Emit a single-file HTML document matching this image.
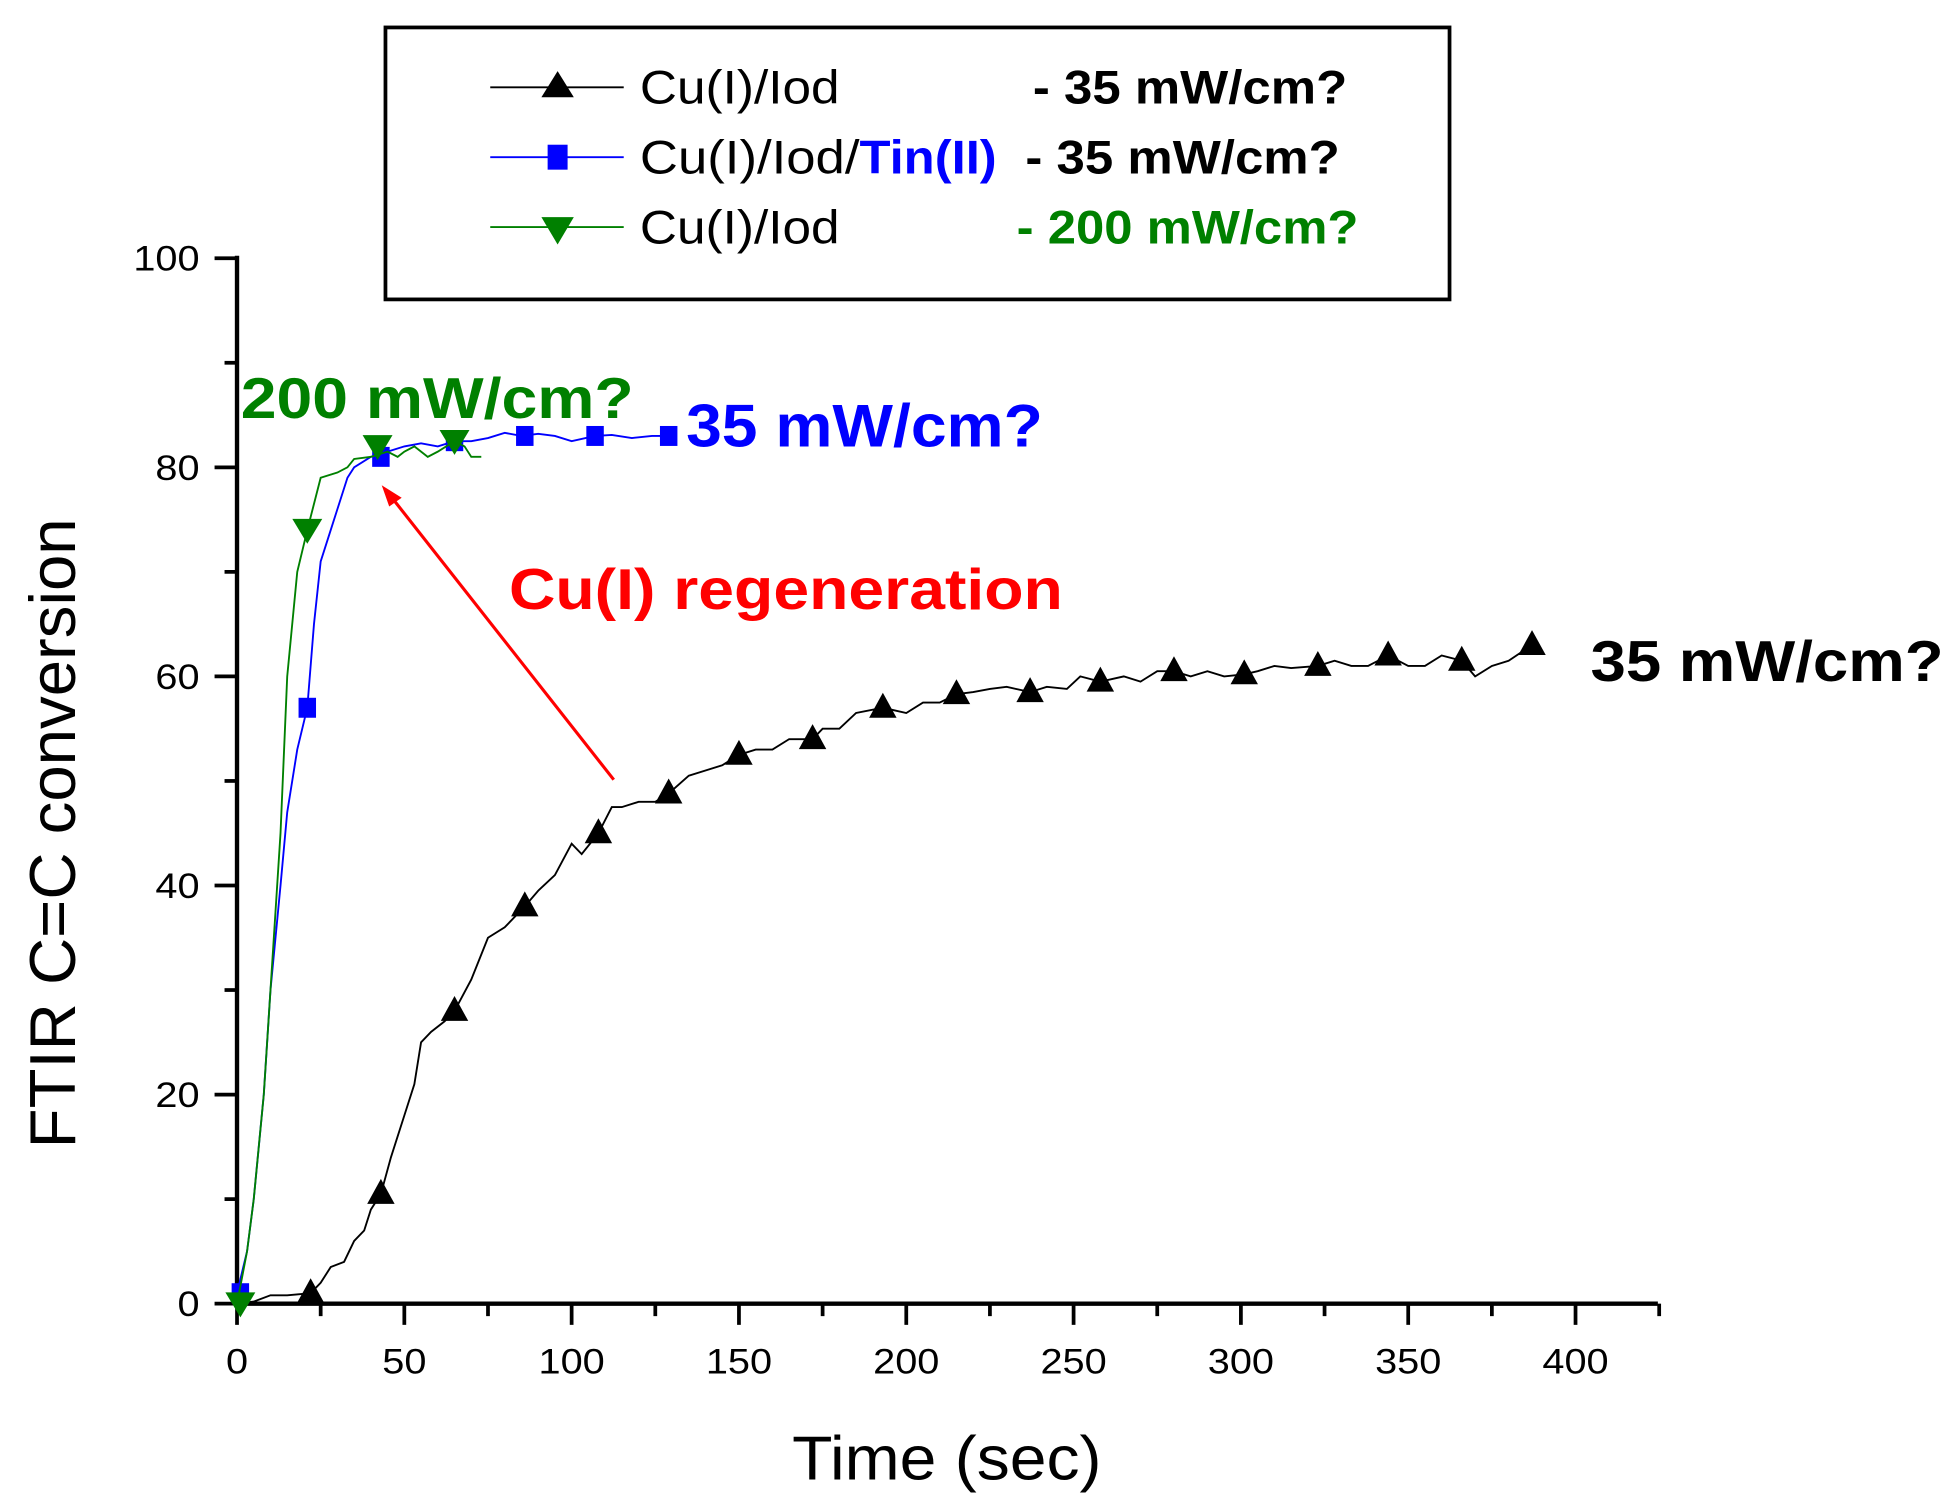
<!DOCTYPE html>
<html><head><meta charset="utf-8"><style>
html,body{margin:0;padding:0;background:#fff;}
svg{display:block;}
text{font-family:"Liberation Sans",Arial,sans-serif;}
</style></head><body>
<svg id="s" width="1956" height="1507" viewBox="0 0 1568 1208" preserveAspectRatio="none" xmlns="http://www.w3.org/2000/svg">
<rect width="1568" height="1208" fill="#fff"/>
<rect x="309" y="22" width="853" height="218" fill="#fff" stroke="#000" stroke-width="3"/>
<line x1="393" y1="70" x2="500" y2="70" stroke="#000" stroke-width="1.5"/>
<polygon points="447,57 434,78 460,78" fill="#000"/>
<line x1="393" y1="126" x2="500" y2="126" stroke="#0000ff" stroke-width="1.5"/>
<rect x="439" y="116" width="16" height="20" fill="#0000ff"/>
<line x1="393" y1="182" x2="500" y2="182" stroke="#008000" stroke-width="1.5"/>
<polygon points="434,174 460,174 447,196" fill="#008000"/>
<g font-size="38">
<text x="513" y="83" textLength="160" lengthAdjust="spacingAndGlyphs">Cu(I)/Iod</text>
<text x="513" y="139" textLength="176" lengthAdjust="spacingAndGlyphs">Cu(I)/Iod/</text>
<text x="689" y="139" textLength="110" lengthAdjust="spacingAndGlyphs" fill="#0000ff" font-weight="bold">Tin(II)</text>
<text x="513" y="195" textLength="160" lengthAdjust="spacingAndGlyphs">Cu(I)/Iod</text>
<text x="828" y="83" font-weight="bold" textLength="252" lengthAdjust="spacingAndGlyphs">- 35 mW/cm?</text>
<text x="822" y="139" font-weight="bold" textLength="252" lengthAdjust="spacingAndGlyphs">- 35 mW/cm?</text>
<text x="815" y="195" font-weight="bold" fill="#008000" textLength="274" lengthAdjust="spacingAndGlyphs">- 200 mW/cm?</text>
</g>
<g stroke="#000" stroke-width="3.5" fill="none">
<line x1="190" y1="205" x2="190" y2="1047"/>
<line x1="188" y1="1045" x2="1329" y2="1045"/>
</g>
<g id="ticks" stroke="#000" stroke-width="3"></g>
<g id="labels" font-size="28" fill="#000"></g>
<text font-size="52" x="0" y="0" text-anchor="middle" textLength="505" lengthAdjust="spacingAndGlyphs" transform="translate(60 668) rotate(-90)">FTIR C=C conversion</text>
<text font-size="50" x="635" y="1186" textLength="248" lengthAdjust="spacingAndGlyphs">Time (sec)</text>
<g id="data"></g>
<text x="193" y="335" font-size="46" font-weight="bold" fill="#008000" textLength="315" lengthAdjust="spacingAndGlyphs">200 mW/cm?</text>
<text x="550" y="358" font-size="48" font-weight="bold" fill="#0000ff" textLength="286" lengthAdjust="spacingAndGlyphs">35 mW/cm?</text>
<text x="1275" y="546" font-size="46" font-weight="bold" fill="#000" textLength="283" lengthAdjust="spacingAndGlyphs">35 mW/cm?</text>
<text x="408" y="488" font-size="46" font-weight="bold" fill="#ff0000" textLength="444" lengthAdjust="spacingAndGlyphs">Cu(I) regeneration</text>
<line x1="492" y1="625" x2="315" y2="400" stroke="#ff0000" stroke-width="2.5"/>
<polygon points="306,389 322,399 312,406" fill="#ff0000"/>
</svg>
<script>
var NS="http://www.w3.org/2000/svg";
function X(t){return 190+t*1073/400;}
function Y(v){return 1045-v*8.38;}
function el(n,a,p){var e=document.createElementNS(NS,n);for(var k in a)e.setAttribute(k,a[k]);p.appendChild(e);return e;}
var tk=document.getElementById('ticks'),lb=document.getElementById('labels');
for(var v=0;v<=100;v+=10){var maj=v%20==0;el('line',{x1:maj?172:180,y1:Y(v),x2:190,y2:Y(v)},tk);
 if(maj){var s=String(v);var t=el('text',{x:160,y:Y(v)+10,'text-anchor':'end',textLength:s.length*17.7,lengthAdjust:'spacingAndGlyphs'},lb);t.textContent=s;}}
for(var q=0;q<=425;q+=25){var maj=q%50==0;el('line',{x1:X(q),y1:1045,x2:X(q),y2:maj?1062:1055},tk);
 if(maj){var s=String(q);var t=el('text',{x:X(q)-s.length*8.85,y:1101,textLength:s.length*17.7,lengthAdjust:'spacingAndGlyphs'},lb);t.textContent=s;}}
var d=document.getElementById('data');
function path(pts,c){el('polyline',{points:pts.map(function(p){return X(p[0])+','+Y(p[1]);}).join(' '),fill:'none',stroke:c,'stroke-width':1.5},d);}
var black=[[0,0],[5,0.2],[10,0.8],[15,0.8],[22,1],[25,2],[28,3.5],[32,4],[35,6],[38,7],[40,9],[43,10.5],[46,14],[50,18],[53,21],[55,25],[58,26],[62,27],[65,28],[70,31],[75,35],[80,36],[86,38],[90,39.5],[95,41],[100,44],[103,43],[108,45],[112,47.5],[115,47.5],[120,48],[125,48],[129,48.8],[135,50.5],[140,51],[145,51.5],[150,52.5],[155,53],[160,53],[165,54],[172,54],[175,55],[180,55],[185,56.5],[193,57],[200,56.5],[205,57.5],[210,57.5],[215,58.3],[220,58.5],[225,58.8],[230,59],[237,58.5],[242,59],[248,58.8],[252,60],[258,59.5],[265,60],[270,59.5],[275,60.5],[280,60.5],[285,60],[290,60.5],[295,60],[301,60.2],[305,60.5],[310,61],[315,60.8],[323,61],[328,61.5],[333,61],[338,61],[344,62],[350,61],[355,61],[360,62],[366,61.5],[370,60],[375,61],[380,61.5],[387,63]];
path(black,'#000');
[22,43,65,86,108,129,150,172,193,215,237,258,280,301,323,344,366,387].forEach(function(t){var v=0;black.forEach(function(p){if(p[0]==t)v=p[1];});
 var x=X(t),y=Y(v);el('polygon',{points:x+','+(y-12)+' '+(x-11)+','+(y+8)+' '+(x+11)+','+(y+8),fill:'#000'},d);});
var blue=[[0,1],[3,5],[5,10],[8,20],[10,30],[13,40],[15,47],[18,53],[21,57],[23,65],[25,71],[28,74],[30,76],[33,79],[35,80],[40,81],[45,81.5],[50,82],[55,82.3],[60,82],[65,82.5],[70,82.5],[75,82.8],[80,83.3],[85,83],[90,83.2],[95,83],[100,82.5],[107,83],[112,83.1],[118,82.8],[124,83],[129,83]];
path(blue,'#0000ff');
[[1,1],[21,57],[43,81],[65,82.5],[86,83],[107,83],[129,83]].forEach(function(p){var x=X(p[0]),y=Y(p[1]);el('rect',{x:x-7,y:y-8,width:14,height:16,fill:'#0000ff'},d);});
var green=[[0,0],[3,5],[5,10],[8,20],[10,30],[13,45],[15,60],[18,70],[21,74],[25,79],[30,79.5],[33,80],[35,80.8],[40,81],[45,81.5],[48,81],[50,81.5],[53,82],[57,81],[60,81.5],[65,82.5],[68,82],[70,81],[73,81]];
path(green,'#008000');
[[1,0],[21,74],[42,82],[65,82.5]].forEach(function(p){var x=X(p[0]),y=Y(p[1]);el('polygon',{points:(x-12)+','+(y-9)+' '+(x+12)+','+(y-9)+' '+x+','+(y+11),fill:'#008000'},d);});
</script>
</body></html>
